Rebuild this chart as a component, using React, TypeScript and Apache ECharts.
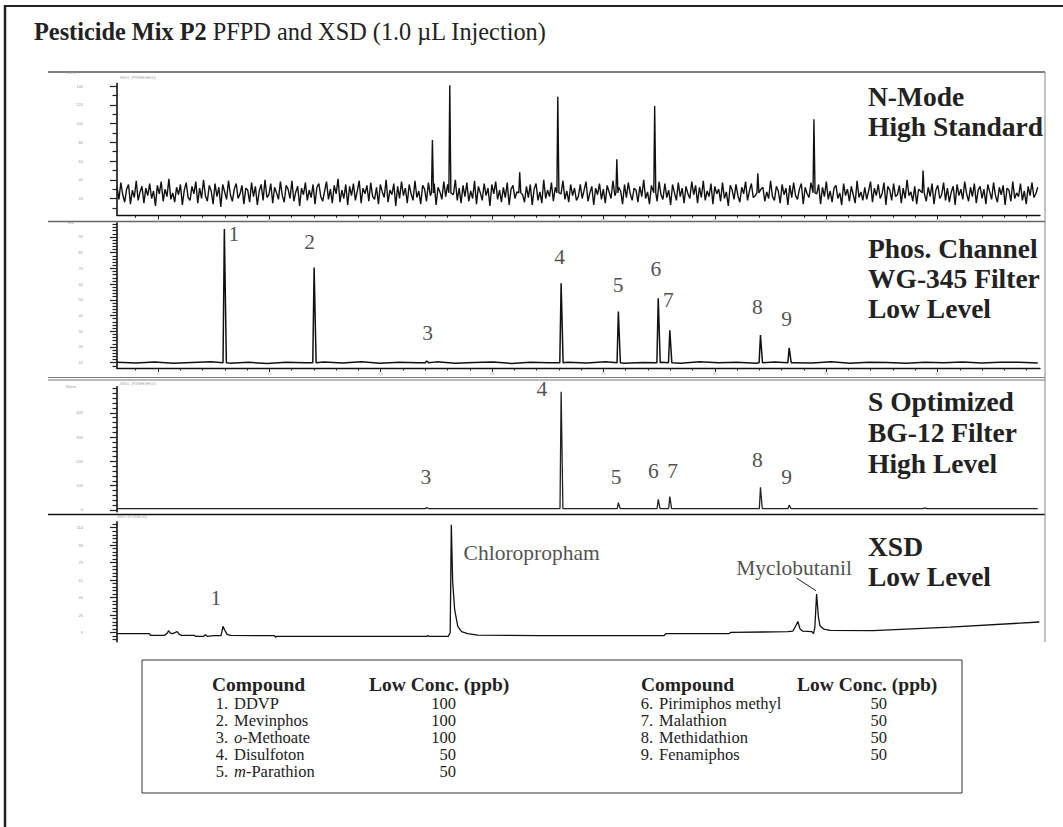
import React, { useEffect, useRef } from 'react';
import * as echarts from 'echarts';

const SERIF = "'Liberation Serif', 'Times New Roman', serif";
const SANS = "'Liberation Sans', Arial, sans-serif";

// ---------- time axis (minutes) ----------
const timeMin = 3.16;
const timeMax = 44.6;
const timeMajorTicks = [5, 10, 15, 20, 25, 30, 35, 40];
const timeMinorTicks = [4, 6, 7, 8, 9, 11, 12, 13, 14, 16, 17, 18, 19, 21, 22, 23, 24, 26, 27, 28, 29, 31, 32, 33, 34, 36, 37, 38, 39, 41, 42, 43, 44];

// ---------- panel 1 : N-mode, high standard ----------
const nModeBaseline = 26;
const nModeNoiseFirstHalf = [
  6, -7, 11, -2, -10, 4, 9, -12, 3, -5, 13, -8, 1, 7, -11, 5, -3, 10, -6, 2, -14, 8, -1, 12, -9, 4, -4, 15, -7, 0,
  -10, 6, -2, 9, -13, 3, 11, -5, -8, 7, -1, 12, -11, 5, -6, 14, -3, -9, 8, 2, -12, 10, -4, 6, -15, 9, 1, -7, 13, -2,
  -9, 4, 10, -6, -1, 8, -12, 5, 3, -10, 11, -4, 7, -13, 2, 9, -8, 14, -5, -2, 10, -11, 6, 0, -7, 12, -3, -10, 8, 4,
  -6, 13, -9, 1, 7, -14, 5, -2, 11, -8, 3, -5, 9, -12, 6, 10, -4, -9, 2, 12, -7, 4, -11, 8, -1, 15, -10, 3, -6, 9,
  -13, 7, -3, 10, -8, 2, 13, -11, 5, -1, 8, -9, 11, -4, -7, 6, -12, 9, 1, -5, 14, -10, 3, -2, 10, -14, 7, -6, 12, -3,
  5, -11, 9, -1, -8, 13, -5, 2, -12, 8, 4, -9, 11, -3, -6, 10, -13, 6, 1, -7, 12, -4, 9, -10, 3, -2, 14, -8, 5, -11,
  8, -4, 11, -9, 2, -6, 13, -12, 7, 0, -8, 10, -3, 5, -14, 9, -1, 12, -7, 3, -10, 6, -5, 11, -13, 4, 8, -6, 1, -9,
  12, -2, -10, 7, -5, 9, -13, 4, 10, -8, 1, -11, 14, -6, 3, -4, 11, -9, 6, -12, 8, -1, 13, -7, 2, -10, 9, -3, 5, -8,
];
const nModeNoiseSecondHalf = [
  -4, 9, -6, 3, 12, -9, 0, 7, -13, 5, -2, 10, -7, 4, -11, 8, 1, -6, 13, -3, -9, 6, 2, -12, 9, -5, 11, -1, -8, 5,
  3, -10, 7, -4, 14, -6, 1, -12, 8, -3, 6, -9, 12, -2, -7, 10, -5, 3, -13, 9, 0, -8, 11, -4, 5, -11, 7, -1, -6, 12,
  -2, 8, -11, 6, -5, 13, -8, 2, -4, 10, -12, 7, -1, 4, -9, 11, -6, 1, -14, 8, 3, -7, 9, -3, -10, 6, -1, 12, -8, 2,
  10, -5, -3, 8, -12, 4, 6, -9, 1, -6, 13, -4, -8, 7, 2, -11, 9, -2, 5, -13, 8, -5, 11, -3, -7, 4, 10, -12, 6, -1,
  -5, 11, -8, 3, -1, 9, -12, 6, -4, 12, -7, 2, -10, 5, 8, -6, 0, -13, 10, -3, 4, -9, 7, -2, -11, 13, -5, 1, -8, 6,
  -7, 2, 12, -10, 5, -3, 9, -6, -1, 11, -13, 7, 3, -8, 10, -4, -2, 8, -11, 5, -6, 14, -3, 1, -9, 7, -12, 4, 2, -5,
  -1, -9, 6, -4, 10, -12, 3, 8, -6, -2, 11, -8, 5, -10, 1, 7, -13, 9, -3, 4, -7, 12, -1, -9, 6, -4, 10, -11, 3, 7,
  -6, 4, -12, 9, 1, -7, 11, -3, -10, 6, -2, 8, -13, 5, 3, -9, 12, -6, 0, -4, 10, -8, 2, -12, 7, -3, 11, -5, -1, 6,
];
const nModePeakTimes = [17.32, 18.1, 21.24, 22.95, 25.6, 27.3, 31.93, 34.45, 39.35];
const nModePeakHeights = [82.6, 141, 48, 128.9, 62, 118.9, 47, 104.7, 50];
const nModeYLabels = [20, 40, 60, 80, 100, 120, 140];
const nModeYMinor = [10, 30, 50, 70, 90, 110, 130];

// ---------- panel 2 : phosphorus channel ----------
const phosBaseline = 10;
const phosWiggle = [
  0.3, -0.2, 0.4, -0.4, 0.1, 0.5, -0.3, 0.2, -0.5, 0.3, 0, 0.4, -0.2, 0.6, -0.4, 0.2, -0.1, 0.5, -0.3, 0.1,
  0.4, -0.5, 0.2, 0, 0.3, -0.2, 0.5, -0.4, 0.1, 0.3, -0.3, 0.6, -0.1, 0.2, -0.4, 0.4, 0, -0.2, 0.5, -0.3,
  0.2, 0.1, -0.4, 0.3, -0.1, 0.4, -0.2, 0.2, 0.3, -0.2,
];
const phosPeakTimes = [7.98, 12.01, 17.06, 23.1, 25.67, 27.46, 27.98, 32.05, 33.34];
const phosPeakHeights = [95.1, 70.5, 11, 60.5, 42.5, 51, 30.6, 27.6, 19.5];
const phosYLabels = [10, 20, 30, 40, 50, 60, 70, 80, 90];
const phosYMinor = [8, 12, 14, 16, 18, 22, 24, 26, 28, 32, 34, 36, 38, 42, 44, 46, 48, 52, 54, 56, 58, 62, 64, 66, 68, 72, 74, 76, 78, 82, 84, 86, 88, 92, 94, 96, 98];
const phosLabelNames = ['1', '2', '3', '4', '5', '6', '7', '8', '9'];
const phosLabelTimes = [8.41, 11.81, 17.11, 23.03, 25.66, 27.35, 27.92, 31.91, 33.22];
const phosLabelValues = [92, 87, 28.7, 77.2, 59.3, 69.8, 49.6, 45.3, 38];

// ---------- panel 3 : S optimized ----------
const sBaseline = 6;
const sPeakTimes = [17.06, 23.1, 25.67, 27.46, 27.98, 32.05, 33.34, 39.42];
const sPeakHeights = [10, 487, 30, 44, 55, 93, 20, 9];
const sYLabels = [0, 100, 200, 300, 400];
const sYMinor = [20, 40, 60, 80, 120, 140, 160, 180, 220, 240, 260, 280, 320, 340, 360, 380, 420, 440, 460, 480, 500];
const sLabelNames = ['3', '4', '5', '6', '7', '8', '9'];
const sLabelTimes = [17.03, 22.24, 25.57, 27.24, 28.11, 31.91, 33.22];
const sLabelValues = [134, 497, 137, 160, 162, 207, 136];

// ---------- panel 4 : XSD ----------
const xsdTimes = [
  3.16, 4.62, 4.66, 5.29, 5.43, 5.47, 5.56, 5.65, 5.76, 5.86, 5.97, 6.06, 6.64, 6.69, 7.04, 7.13, 7.22, 7.49,
  7.83, 7.92, 7.99, 8.1, 8.26, 10.23, 10.28, 10.32, 17.06, 17.11, 17.17, 18.03, 18.12, 18.17, 18.23, 18.32,
  18.46, 18.63, 18.9, 19.35, 22.14, 27.71, 27.8, 30.63, 30.72, 33.28, 33.5, 33.64, 33.73, 33.82, 33.95, 34.36,
  34.43, 34.49, 34.57, 34.65, 34.72, 34.9, 35.17, 37.1, 40.56, 44.57,
];
const xsdValues = [
  8, 8, 6.3, 6.3, 9, 11, 8.5, 8, 9, 10, 7, 6.3, 6.3, 5.3, 5.3, 7, 5.3, 6,
  6, 15.3, 12, 7.3, 6.3, 6, 4.3, 5.3, 5.3, 6.3, 5.3, 5.3, 9, 117, 60, 32,
  15.3, 10, 8, 6.5, 6, 6, 8, 8, 9.3, 10, 10.5, 16, 20.3, 13, 10.5, 10,
  8, 14, 47.7, 25, 16, 12.5, 11.3, 11, 14.5, 19.7,
];
const xsdYLabels = [9, 26, 44, 61, 79, 96, 114];
const xsdYMinor = [2.5, 5.5, 12.5, 16, 19.5, 23, 30, 33.5, 37, 40.5, 47.5, 51, 54.5, 58, 65, 68.5, 72, 75.5, 82.5, 86, 89.5, 93, 99.5, 103, 106.5, 110, 117.5];
const xsdLabelNames = ['1', 'Chloropropham', 'Myclobutanil'];
const xsdLabelTimes = [7.6, 18.72, 30.96];
const xsdLabelValues = [43.7, 89, 74];
const leaderTimes = [33.66, 34.54];
const leaderValues = [63.7, 51];

// ---------- right-hand panel titles ----------
const panelTitles = [
  ['N-Mode', 'High Standard'],
  ['Phos. Channel', 'WG-345 Filter', 'Low Level'],
  ['S Optimized', 'BG-12 Filter', 'High Level'],
  ['XSD', 'Low Level'],
];

// ---------- compound table ----------
const compoundNumbers = ['1.', '2.', '3.', '4.', '5.', '6.', '7.', '8.', '9.'];
const compoundPrefixes = ['', '', 'o', '', 'm', '', '', '', ''];
const compoundNames = ['DDVP', 'Mevinphos', '-Methoate', 'Disulfoton', '-Parathion', 'Pirimiphos methyl', 'Malathion', 'Methidathion', 'Fenamiphos'];
const lowConc = [100, 100, 100, 50, 50, 50, 50, 50, 50];

function noisyTrace(baseline: number, noise: number[], peakT: number[], peakH: number[], halfL: number, halfR: number) {
  const step = (timeMax - 0.1 - timeMin) / (noise.length - 1);
  const pts: number[][] = [];
  noise.forEach((d, i) => {
    const t = timeMin + i * step;
    if (peakT.some((p) => Math.abs(p - t) < halfR + 0.03)) return;
    pts.push([t, baseline + d]);
  });
  peakT.forEach((p, i) => {
    pts.push([p - halfL, baseline], [p, peakH[i]], [p + halfR, baseline]);
  });
  pts.sort((a, b) => a[0] - b[0]);
  return pts;
}

function labelData(names: string[], times: number[], values: number[]) {
  return names.map((n, i) => ({ name: n, value: [times[i], values[i]] }));
}

const PLOT_LEFT = 117;
const PLOT_WIDTH = 923;
const panels = [
  { top: 83.5, height: 131.8, yMin: 2, yMax: 143, yMajor: nModeYLabels, yMinor: nModeYMinor, showX: true },
  { top: 223, height: 145, yMin: 6.6, yMax: 98.9, yMajor: phosYLabels, yMinor: phosYMinor, showX: true },
  { top: 386.7, height: 125, yMin: -7, yMax: 507.4, yMajor: sYLabels, yMinor: sYMinor, showX: false },
  { top: 521.7, height: 120, yMin: 0, yMax: 120, yMajor: xsdYLabels, yMinor: xsdYMinor, showX: false },
];
const titleCenters = [[96, 126], [248, 278, 308], [401, 432, 463], [546, 576]];

function buildOption() {
  const grid: any[] = [];
  const xAxis: any[] = [];
  const yAxis: any[] = [];
  panels.forEach((p, i) => {
    for (let k = 0; k < 2; k++) {
      grid.push({ left: PLOT_LEFT, top: p.top, width: PLOT_WIDTH, height: p.height });
      const major = k === 0;
      xAxis.push({
        gridIndex: 2 * i + k,
        type: 'value',
        min: timeMin,
        max: timeMax,
        axisLine: { show: major && p.showX, onZero: false, lineStyle: { color: '#111', width: 1.4 } },
        axisTick: {
          show: p.showX,
          customValues: major ? timeMajorTicks : timeMinorTicks,
          length: major ? 4 : 2.5,
          lineStyle: { color: '#222', width: 1 },
        },
        axisLabel: {
          show: major && p.showX,
          customValues: timeMajorTicks,
          fontSize: 4,
          color: '#aaa',
          margin: 3,
          fontFamily: SANS,
        },
        splitLine: { show: false },
      });
      yAxis.push({
        gridIndex: 2 * i + k,
        type: 'value',
        min: p.yMin,
        max: p.yMax,
        axisLine: { show: major, onZero: false, lineStyle: { color: '#111', width: 1.6 } },
        axisTick: {
          show: true,
          customValues: major ? p.yMajor : p.yMinor,
          length: major ? 7 : 4.5,
          lineStyle: { color: '#222', width: 1.2 },
        },
        axisLabel: {
          show: major,
          customValues: p.yMajor,
          fontSize: 4,
          color: '#999',
          margin: 34,
          fontFamily: SANS,
        },
        splitLine: { show: false },
      });
    }
  });

  const lineBase = { type: 'line', symbol: 'none', silent: true, animation: false };
  const labelBase = {
    type: 'scatter',
    symbolSize: 0,
    silent: true,
    label: {
      show: true,
      formatter: '{b}',
      position: 'inside',
      fontSize: 21.5,
      fontFamily: SERIF,
      color: '#222',
    },
  };

  const series: any[] = [
    {
      ...lineBase,
      xAxisIndex: 0,
      yAxisIndex: 0,
      data: noisyTrace(nModeBaseline, nModeNoiseFirstHalf.concat(nModeNoiseSecondHalf), nModePeakTimes, nModePeakHeights, 0.04, 0.05),
      lineStyle: { color: '#111', width: 1.4 },
    },
    {
      ...lineBase,
      xAxisIndex: 2,
      yAxisIndex: 2,
      data: noisyTrace(phosBaseline, phosWiggle, phosPeakTimes, phosPeakHeights, 0.06, 0.09),
      lineStyle: { color: '#111', width: 1.5 },
    },
    {
      ...lineBase,
      xAxisIndex: 4,
      yAxisIndex: 4,
      data: noisyTrace(sBaseline, [0, 0], sPeakTimes, sPeakHeights, 0.05, 0.08),
      lineStyle: { color: '#222', width: 1.3 },
    },
    {
      ...lineBase,
      xAxisIndex: 6,
      yAxisIndex: 6,
      data: xsdTimes.map((t, i) => [t, xsdValues[i]]),
      lineStyle: { color: '#111', width: 1.3 },
    },
    {
      ...lineBase,
      xAxisIndex: 6,
      yAxisIndex: 6,
      data: leaderTimes.map((t, i) => [t, leaderValues[i]]),
      lineStyle: { color: '#222', width: 1 },
    },
    { ...labelBase, xAxisIndex: 2, yAxisIndex: 2, data: labelData(phosLabelNames, phosLabelTimes, phosLabelValues) },
    { ...labelBase, xAxisIndex: 4, yAxisIndex: 4, data: labelData(sLabelNames, sLabelTimes, sLabelValues) },
    {
      ...labelBase,
      xAxisIndex: 6,
      yAxisIndex: 6,
      data: labelData(xsdLabelNames.slice(0, 1), xsdLabelTimes.slice(0, 1), xsdLabelValues.slice(0, 1)),
    },
    {
      ...labelBase,
      xAxisIndex: 6,
      yAxisIndex: 6,
      label: { ...labelBase.label, position: 'right', distance: 0 },
      data: labelData(xsdLabelNames.slice(1), xsdLabelTimes.slice(1), xsdLabelValues.slice(1)),
    },
  ];

  const graphic: any[] = [];
  const hline = (y: number, x1: number, x2: number, stroke: string, w: number) =>
    graphic.push({ type: 'line', silent: true, shape: { x1, y1: y, x2, y2: y }, style: { stroke, lineWidth: w } });
  // outer frame
  graphic.push({ type: 'line', silent: true, shape: { x1: 5, y1: 5, x2: 5, y2: 827 }, style: { stroke: '#222', lineWidth: 2.5 } });
  hline(6, 4, 1063, '#222', 2);
  // panel frame lines
  hline(72, 48, 1045, '#555', 1.6);
  hline(221.5, 48, 1045, '#666', 1.5);
  hline(377.5, 48, 1045, '#777', 1.2);
  hline(380, 48, 1045, '#777', 1.2);
  hline(514.5, 48, 1045, '#111', 1.4);
  graphic.push({ type: 'line', silent: true, shape: { x1: 1045, y1: 72, x2: 1045, y2: 642 }, style: { stroke: '#888', lineWidth: 1 } });

  // title
  graphic.push({
    type: 'text',
    x: 34,
    y: 31,
    silent: true,
    style: {
      text: '{b|Pesticide Mix P2}{r| PFPD and XSD (1.0 µL Injection)}',
      verticalAlign: 'middle',
      rich: {
        b: { fontFamily: SERIF, fontSize: 24.3, fontWeight: 'bold', fill: '#222' },
        r: { fontFamily: SERIF, fontSize: 24.3, fontWeight: 'normal', fill: '#222' },
      },
    },
  });

  // panel titles on the right
  panelTitles.forEach((lines, i) => {
    lines.forEach((txt, j) => {
      graphic.push({
        type: 'text',
        x: 868,
        y: titleCenters[i][j],
        silent: true,
        style: { text: txt, fontFamily: SERIF, fontSize: 27.5, fontWeight: 'bold', fill: '#222', align: 'left', verticalAlign: 'middle' },
      });
    });
  });

  // tiny instrument texts
  const tiny = (x: number, y: number, t: string) =>
    graphic.push({ type: 'text', x, y, silent: true, style: { text: t, fontFamily: SANS, fontSize: 4, fill: '#999', align: 'left', verticalAlign: 'middle' } });
  tiny(120, 77, 'SIG1, (P2NHIGH.D)');
  tiny(120, 383.5, 'SIG1, (P2SHIGH.D)');
  tiny(117, 516.5, 'SIG1 (P2XSD.D)');
  tiny(66, 72.5, 'N mV');
  tiny(68, 222.5, 'mV');
  tiny(66, 386, 'Norm.');

  // compound table
  const boxL = 142, boxR = 962, boxT = 660, boxB = 793;
  graphic.push({
    type: 'rect',
    silent: true,
    shape: { x: boxL, y: boxT, width: boxR - boxL, height: boxB - boxT },
    style: { fill: '#fff', stroke: '#333', lineWidth: 1 },
  });
  const headerY = 684.5;
  const rowY0 = 703;
  const rowStep = 17;
  const cols = [
    { compX: 212, concX: 369, numX: 228, nameX: 234, valX: 456, start: 0, end: 5 },
    { compX: 641, concX: 797, numX: 653, nameX: 659, valX: 887, start: 5, end: 9 },
  ];
  cols.forEach((c) => {
    graphic.push({ type: 'text', x: c.compX, y: headerY, silent: true, style: { text: 'Compound', fontFamily: SERIF, fontSize: 19.5, fontWeight: 'bold', fill: '#222', align: 'left', verticalAlign: 'middle' } });
    graphic.push({ type: 'text', x: c.concX, y: headerY, silent: true, style: { text: 'Low Conc. (ppb)', fontFamily: SERIF, fontSize: 19.5, fontWeight: 'bold', fill: '#222', align: 'left', verticalAlign: 'middle' } });
    for (let i = c.start; i < c.end; i++) {
      const y = rowY0 + (i - c.start) * rowStep;
      graphic.push({ type: 'text', x: c.numX, y, silent: true, style: { text: compoundNumbers[i], fontFamily: SERIF, fontSize: 16.5, fill: '#222', align: 'right', verticalAlign: 'middle' } });
      const pre = compoundPrefixes[i];
      graphic.push({
        type: 'text',
        x: c.nameX,
        y,
        silent: true,
        style: {
          text: pre ? `{i|${pre}}{n|${compoundNames[i]}}` : `{n|${compoundNames[i]}}`,
          verticalAlign: 'middle',
          rich: {
            i: { fontFamily: SERIF, fontSize: 16.5, fontStyle: 'italic', fill: '#222' },
            n: { fontFamily: SERIF, fontSize: 16.5, fill: '#222' },
          },
        },
      });
      graphic.push({ type: 'text', x: c.valX, y, silent: true, style: { text: String(lowConc[i]), fontFamily: SERIF, fontSize: 16.5, fill: '#222', align: 'right', verticalAlign: 'middle' } });
    }
  });

  return {
    animation: false,
    backgroundColor: '#ffffff',
    grid,
    xAxis,
    yAxis,
    series,
    graphic: { elements: graphic },
  };
}

export default function App() {
  const ref = useRef<HTMLDivElement>(null);
  useEffect(() => {
    document.body.style.margin = '0';
    if (!ref.current) return;
    const chart = echarts.init(ref.current, undefined, { renderer: 'svg' });
    chart.setOption(buildOption() as any);
    return () => chart.dispose();
  }, []);
  return <div ref={ref} style={{ position: 'absolute', left: 0, top: 0, width: 1063, height: 827, background: '#fff' }} />;
}
